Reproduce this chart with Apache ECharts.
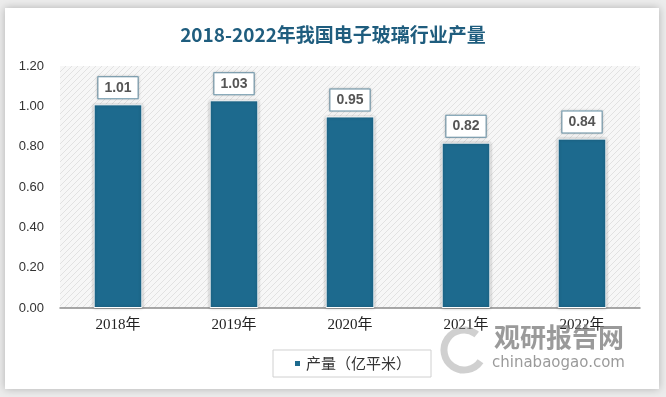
<!DOCTYPE html>
<html>
<head>
<meta charset="utf-8">
<script src="https://cdn.jsdelivr.net/npm/echarts@6/dist/echarts.min.js"></script>
<style>
  html, body { margin: 0; padding: 0; background: #ececec; }
  #chart { width: 666px; height: 397px; }
</style>
</head>
<body>
<div id="chart"></div>
<script>
  var years = ['2018年', '2019年', '2020年', '2021年', '2022年'];
  var output = [1.01, 1.03, 0.95, 0.82, 0.84];
  var seriesName = '产量（亿平米）';
  var titleText = '2018-2022年我国电子玻璃行业产量';

  // hatched background for the plot area
  var pat = document.createElement('canvas');
  pat.width = 6; pat.height = 6;
  var ctx = pat.getContext('2d');
  ctx.fillStyle = '#f7f7f7';
  ctx.fillRect(0, 0, 6, 6);
  ctx.strokeStyle = '#e2e2e2';
  ctx.lineWidth = 1;
  ctx.beginPath();
  ctx.moveTo(0, 6); ctx.lineTo(6, 0);
  ctx.moveTo(-3, 3); ctx.lineTo(3, -3);
  ctx.moveTo(3, 9); ctx.lineTo(9, 3);
  ctx.stroke();

  var myChart = echarts.init(document.getElementById('chart'));
  myChart.setOption({
    backgroundColor: '#ececec',
    animation: false,
    graphic: [
      {
        type: 'rect', z: -10,
        shape: { x: 5, y: 8, width: 654, height: 381 },
        style: { fill: '#ffffff', shadowBlur: 8, shadowColor: 'rgba(0,0,0,0.25)' }
      },
      {
        type: 'arc', z: 10,
        shape: { cx: 464, cy: 350, r: 20, startAngle: 0.6, endAngle: 5.4 },
        style: { stroke: 'rgba(150,150,150,0.45)', lineWidth: 7, fill: null }
      },
      {
        type: 'text', left: 494, top: 324, z: 10,
        style: { text: '观研报告网', font: 'bold 26px "Noto Sans CJK SC"', fill: 'rgba(120,120,120,0.75)' }
      },
      {
        type: 'text', left: 492, top: 356, z: 10,
        style: { text: 'chinabaogao.com', font: '15px "DejaVu Sans"', fill: 'rgba(120,120,120,0.75)' }
      }
    ],
    title: {
      text: titleText,
      left: 'center',
      top: 20,
      textStyle: { fontSize: 19, fontWeight: 'bold', color: '#1f5d7e', fontFamily: '"Noto Sans CJK SC"' }
    },
    grid: {
      left: 60, right: 26, top: 66, bottom: 89,
      show: true,
      borderWidth: 0,
      backgroundColor: { image: pat, repeat: 'repeat' }
    },
    legend: {
      bottom: 20,
      left: 273,
      itemWidth: 7, itemHeight: 7,
      padding: [6, 20],
      borderColor: '#d0d0d0', borderWidth: 1,
      backgroundColor: '#fff',
      textStyle: { fontSize: 15, color: '#333', fontFamily: '"Noto Sans CJK SC"' },
      data: [{ name: seriesName, icon: 'rect' }]
    },
    xAxis: {
      type: 'category',
      data: years,
      axisLine: { lineStyle: { color: '#8c8c8c', width: 1.5 } },
      axisTick: { show: false },
      axisLabel: { fontSize: 15, color: '#222', margin: 10, fontFamily: '"Liberation Serif", "Noto Sans CJK SC"' }
    },
    yAxis: {
      type: 'value',
      min: 0, max: 1.2, interval: 0.2,
      axisLine: { show: false },
      axisTick: { show: false },
      splitLine: { show: false },
      axisLabel: {
        fontSize: 13, color: '#333', margin: 16,
        formatter: function (v) { return v.toFixed(2); }
      }
    },
    series: [{
      name: seriesName,
      type: 'bar',
      data: output,
      barWidth: '42%',
      itemStyle: {
        color: '#1d6a8e',
        borderColor: '#ffffff', borderWidth: 1,
        shadowBlur: 3, shadowColor: 'rgba(0,0,0,0.3)'
      },
      label: {
        show: true,
        position: 'top',
        distance: 6,
        formatter: function (p) { return p.value.toFixed(2); },
        fontSize: 14, fontWeight: 'bold', color: '#555',
        backgroundColor: '#fff',
        borderColor: '#6b97ad', borderWidth: 1,
        padding: [4, 6, 3, 6],
        shadowBlur: 3, shadowColor: 'rgba(0,0,0,0.2)'
      }
    }]
  });
</script>
</body>
</html>
